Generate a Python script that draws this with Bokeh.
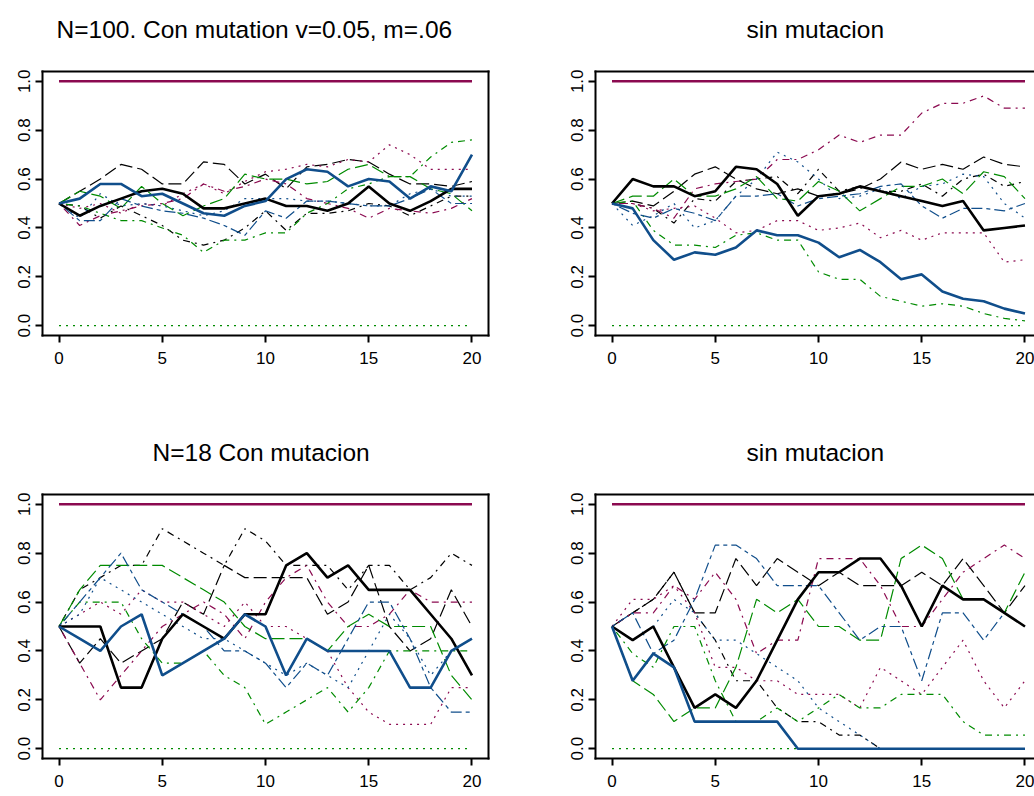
from bokeh.plotting import figure
from bokeh.models import Range1d, FixedTicker, NumeralTickFormatter, LinearAxis, Title
from bokeh.layouts import column, row
from bokeh.embed import file_html
from bokeh.resources import INLINE

# ---------------------------------------------------------------------------
# Data: allele frequency per generation, ten replicate populations per panel
# plus the two absorbing boundaries (fixation at 1, loss at 0).
# ---------------------------------------------------------------------------
GEN = [0, 1, 2, 3, 4, 5, 6, 7, 8, 9, 10, 11, 12, 13, 14, 15, 16, 17, 18, 19, 20]
X_TICKS = [0, 5, 10, 15, 20]
Y_TICKS = [0.0, 0.2, 0.4, 0.6, 0.8, 1.0]

FIXED_ONE = [1.0, 1.0, 1.0, 1.0, 1.0, 1.0, 1.0, 1.0, 1.0, 1.0, 1.0,
             1.0, 1.0, 1.0, 1.0, 1.0, 1.0, 1.0, 1.0, 1.0, 1.0]
FIXED_ZERO = [0.0, 0.0, 0.0, 0.0, 0.0, 0.0, 0.0, 0.0, 0.0, 0.0, 0.0,
              0.0, 0.0, 0.0, 0.0, 0.0, 0.0, 0.0, 0.0, 0.0, 0.0]

TITLES = ["N=100. Con mutation v=0.05, m=.06", "sin mutacion",
          "N=18 Con mutacion", "sin mutacion"]

# N=100, with mutation
A_BLACK_SOLID = [0.50, 0.45, 0.49, 0.52, 0.55, 0.56, 0.54, 0.48, 0.48, 0.50, 0.52,
                 0.49, 0.49, 0.47, 0.50, 0.57, 0.50, 0.47, 0.51, 0.56, 0.56]
A_BLUE_SOLID = [0.50, 0.52, 0.58, 0.58, 0.53, 0.54, 0.50, 0.46, 0.45, 0.49, 0.51,
                0.60, 0.64, 0.63, 0.57, 0.60, 0.59, 0.52, 0.57, 0.55, 0.70]
A_BLACK_LONG = [0.50, 0.55, 0.60, 0.66, 0.64, 0.58, 0.58, 0.67, 0.66, 0.58, 0.62,
                0.56, 0.65, 0.66, 0.68, 0.67, 0.62, 0.58, 0.58, 0.57, 0.59]
A_BLACK_DOTDASH = [0.50, 0.49, 0.44, 0.49, 0.45, 0.41, 0.35, 0.33, 0.35, 0.40, 0.47,
                   0.39, 0.46, 0.46, 0.47, 0.50, 0.49, 0.45, 0.49, 0.53, 0.53]
A_MAROON_DOTDASH = [0.50, 0.41, 0.45, 0.47, 0.49, 0.50, 0.52, 0.58, 0.55, 0.57, 0.60,
                    0.58, 0.52, 0.50, 0.48, 0.44, 0.48, 0.47, 0.46, 0.48, 0.52]
A_MAROON_DOTTED = [0.50, 0.48, 0.50, 0.46, 0.50, 0.49, 0.54, 0.58, 0.54, 0.59, 0.63,
                   0.64, 0.66, 0.65, 0.68, 0.67, 0.74, 0.70, 0.64, 0.64, 0.64]
A_GREEN_LONG = [0.50, 0.55, 0.53, 0.48, 0.57, 0.50, 0.45, 0.49, 0.52, 0.62, 0.60,
                0.60, 0.58, 0.59, 0.64, 0.66, 0.61, 0.61, 0.56, 0.54, 0.47]
A_GREEN_DOTDASH = [0.50, 0.49, 0.46, 0.43, 0.43, 0.40, 0.37, 0.30, 0.35, 0.35, 0.38,
                   0.38, 0.46, 0.50, 0.56, 0.58, 0.61, 0.61, 0.69, 0.75, 0.76]
A_BLUE_TWODASH = [0.50, 0.43, 0.43, 0.52, 0.49, 0.47, 0.46, 0.44, 0.41, 0.37, 0.47,
                  0.44, 0.51, 0.51, 0.50, 0.49, 0.49, 0.52, 0.56, 0.50, 0.50]
A_BLUE_DOTTED = [0.50, 0.44, 0.54, 0.49, 0.50, 0.49, 0.47, 0.45, 0.47, 0.52, 0.52,
                 0.52, 0.51, 0.51, 0.50, 0.49, 0.49, 0.54, 0.56, 0.53, 0.53]

# N=100, without mutation
B_BLACK_SOLID = [0.50, 0.60, 0.57, 0.57, 0.53, 0.55, 0.65, 0.64, 0.58, 0.45, 0.53,
                 0.54, 0.57, 0.55, 0.53, 0.51, 0.49, 0.51, 0.39, 0.40, 0.41]
B_BLUE_SOLID = [0.50, 0.48, 0.35, 0.27, 0.30, 0.29, 0.32, 0.39, 0.37, 0.37, 0.34,
                0.28, 0.31, 0.26, 0.19, 0.21, 0.14, 0.11, 0.10, 0.07, 0.05]
B_BLACK_LONG = [0.50, 0.51, 0.49, 0.55, 0.62, 0.65, 0.60, 0.56, 0.54, 0.56, 0.53,
                0.54, 0.56, 0.60, 0.67, 0.64, 0.66, 0.64, 0.69, 0.66, 0.65]
B_BLACK_DOTDASH = [0.50, 0.50, 0.48, 0.42, 0.52, 0.51, 0.59, 0.60, 0.61, 0.54, 0.64,
                   0.55, 0.57, 0.55, 0.55, 0.58, 0.53, 0.60, 0.62, 0.57, 0.59]
B_MAROON_DOTDASH = [0.50, 0.50, 0.48, 0.44, 0.56, 0.58, 0.59, 0.60, 0.68, 0.68, 0.72,
                    0.78, 0.75, 0.78, 0.78, 0.87, 0.91, 0.91, 0.94, 0.89, 0.89]
B_MAROON_DOTTED = [0.50, 0.50, 0.47, 0.48, 0.49, 0.44, 0.38, 0.39, 0.43, 0.43, 0.39,
                   0.40, 0.42, 0.36, 0.39, 0.35, 0.38, 0.38, 0.38, 0.26, 0.27]
B_GREEN_LONG = [0.50, 0.53, 0.53, 0.60, 0.53, 0.53, 0.56, 0.61, 0.52, 0.51, 0.59,
                0.55, 0.47, 0.52, 0.57, 0.57, 0.60, 0.54, 0.63, 0.61, 0.52]
B_GREEN_DOTDASH = [0.50, 0.51, 0.39, 0.33, 0.33, 0.32, 0.37, 0.38, 0.35, 0.35, 0.22,
                   0.19, 0.19, 0.12, 0.10, 0.08, 0.09, 0.08, 0.05, 0.03, 0.02]
B_BLUE_TWODASH = [0.50, 0.46, 0.44, 0.48, 0.46, 0.43, 0.53, 0.53, 0.54, 0.49, 0.52,
                  0.53, 0.54, 0.57, 0.58, 0.49, 0.44, 0.48, 0.48, 0.47, 0.50]
B_BLUE_DOTTED = [0.50, 0.41, 0.45, 0.50, 0.40, 0.43, 0.53, 0.60, 0.71, 0.67, 0.60,
                 0.52, 0.53, 0.56, 0.52, 0.57, 0.58, 0.62, 0.61, 0.50, 0.44]

# N=18, with mutation
C_BLACK_SOLID = [0.50, 0.50, 0.50, 0.25, 0.25, 0.45, 0.55, 0.50, 0.45, 0.55, 0.55,
                 0.75, 0.80, 0.70, 0.75, 0.65, 0.65, 0.65, 0.55, 0.45, 0.30]
C_BLUE_SOLID = [0.50, 0.45, 0.40, 0.50, 0.55, 0.30, 0.35, 0.40, 0.45, 0.55, 0.50,
                0.30, 0.45, 0.40, 0.40, 0.40, 0.40, 0.25, 0.25, 0.40, 0.45]
C_BLACK_LONG = [0.50, 0.35, 0.45, 0.35, 0.40, 0.45, 0.60, 0.55, 0.75, 0.70, 0.70,
                0.70, 0.70, 0.55, 0.60, 0.75, 0.50, 0.40, 0.45, 0.65, 0.50]
C_BLACK_DOTDASH = [0.50, 0.65, 0.70, 0.75, 0.75, 0.90, 0.85, 0.80, 0.75, 0.90, 0.85,
                   0.75, 0.75, 0.75, 0.65, 0.75, 0.75, 0.65, 0.70, 0.80, 0.75]
C_MAROON_DOTDASH = [0.50, 0.35, 0.20, 0.30, 0.40, 0.50, 0.55, 0.60, 0.55, 0.45, 0.60,
                    0.70, 0.75, 0.60, 0.50, 0.50, 0.55, 0.65, 0.60, 0.60, 0.60]
C_MAROON_DOTTED = [0.50, 0.55, 0.60, 0.55, 0.65, 0.60, 0.60, 0.55, 0.50, 0.60, 0.50,
                   0.50, 0.45, 0.40, 0.25, 0.15, 0.10, 0.10, 0.10, 0.25, 0.25]
C_GREEN_LONG = [0.50, 0.65, 0.75, 0.75, 0.75, 0.75, 0.70, 0.65, 0.60, 0.50, 0.45,
                0.45, 0.45, 0.40, 0.50, 0.55, 0.50, 0.50, 0.50, 0.30, 0.20]
C_GREEN_DOTDASH = [0.50, 0.60, 0.60, 0.60, 0.45, 0.35, 0.35, 0.40, 0.30, 0.25, 0.10,
                   0.15, 0.20, 0.25, 0.15, 0.25, 0.40, 0.40, 0.40, 0.40, 0.40]
C_BLUE_TWODASH = [0.50, 0.60, 0.70, 0.80, 0.65, 0.60, 0.55, 0.50, 0.40, 0.40, 0.35,
                  0.25, 0.35, 0.30, 0.45, 0.60, 0.60, 0.45, 0.25, 0.15, 0.15]
C_BLUE_DOTTED = [0.50, 0.55, 0.70, 0.65, 0.60, 0.55, 0.50, 0.45, 0.45, 0.40, 0.35,
                 0.30, 0.35, 0.30, 0.25, 0.40, 0.55, 0.45, 0.30, 0.40, 0.45]

# N=18, without mutation
D_BLACK_SOLID = [0.500, 0.444, 0.500, 0.333, 0.167, 0.222, 0.167, 0.278, 0.444, 0.611, 0.722,
                 0.722, 0.778, 0.778, 0.667, 0.500, 0.667, 0.611, 0.611, 0.556, 0.500]
D_BLUE_SOLID = [0.500, 0.278, 0.389, 0.333, 0.111, 0.111, 0.111, 0.111, 0.111, 0.000, 0.000,
                0.000, 0.000, 0.000, 0.000, 0.000, 0.000, 0.000, 0.000, 0.000, 0.000]
D_BLACK_LONG = [0.500, 0.556, 0.611, 0.722, 0.556, 0.556, 0.778, 0.667, 0.778, 0.722, 0.667,
                0.722, 0.667, 0.667, 0.667, 0.722, 0.667, 0.778, 0.667, 0.556, 0.667]
D_BLACK_DOTDASH = [0.500, 0.556, 0.611, 0.722, 0.556, 0.444, 0.278, 0.278, 0.167, 0.111, 0.111,
                   0.056, 0.056, 0.000, 0.000, 0.000, 0.000, 0.000, 0.000, 0.000, 0.000]
D_MAROON_DOTDASH = [0.500, 0.556, 0.556, 0.667, 0.611, 0.722, 0.611, 0.389, 0.444, 0.444, 0.778,
                    0.778, 0.778, 0.667, 0.500, 0.500, 0.611, 0.722, 0.778, 0.833, 0.778]
D_MAROON_DOTTED = [0.500, 0.611, 0.611, 0.667, 0.556, 0.333, 0.333, 0.278, 0.278, 0.222, 0.222,
                   0.222, 0.167, 0.333, 0.278, 0.222, 0.333, 0.444, 0.278, 0.167, 0.278]
D_GREEN_LONG = [0.500, 0.278, 0.222, 0.111, 0.167, 0.167, 0.333, 0.611, 0.556, 0.611, 0.500,
                0.500, 0.444, 0.444, 0.778, 0.833, 0.778, 0.611, 0.611, 0.556, 0.722]
D_GREEN_DOTDASH = [0.500, 0.389, 0.333, 0.500, 0.500, 0.278, 0.111, 0.111, 0.167, 0.111, 0.167,
                   0.222, 0.167, 0.167, 0.222, 0.222, 0.222, 0.111, 0.056, 0.056, 0.056]
D_BLUE_TWODASH = [0.500, 0.556, 0.389, 0.444, 0.611, 0.833, 0.833, 0.778, 0.667, 0.667, 0.667,
                  0.556, 0.444, 0.500, 0.500, 0.278, 0.556, 0.556, 0.444, 0.556, 0.500]
D_BLUE_DOTTED = [0.500, 0.444, 0.500, 0.611, 0.556, 0.444, 0.444, 0.389, 0.333, 0.278, 0.167,
                 0.111, 0.056, 0.000, 0.000, 0.000, 0.000, 0.000, 0.000, 0.000, 0.000]

# ---------------------------------------------------------------------------
# Line styles (R-like colours and dash patterns)
# ---------------------------------------------------------------------------
BLACK = "#000000"
MAROON = "#8B0A50"
GREEN = "#008B00"
BLUE = "#104E8B"

THIN = 1.2
THICK = 2.6
DOTTED = "2 5"
DOTDASH = "2 5 7 5"
LONGDASH = "13 5"
TWODASH = "4 4 11 4"

STYLES = {
    "maroon_fixed": (MAROON, "solid", THICK),
    "green_fixed": (GREEN, DOTTED, THIN),
    "black_long": (BLACK, LONGDASH, THIN),
    "black_dotdash": (BLACK, DOTDASH, THIN),
    "maroon_dotdash": (MAROON, DOTDASH, THIN),
    "maroon_dotted": (MAROON, DOTTED, THIN),
    "green_long": (GREEN, LONGDASH, THIN),
    "green_dotdash": (GREEN, DOTDASH, THIN),
    "blue_twodash": (BLUE, TWODASH, THIN),
    "blue_dotted": (BLUE, DOTTED, THIN),
    "black_solid": (BLACK, "solid", THICK),
    "blue_solid": (BLUE, "solid", THICK),
}

PANEL_A = [("maroon_fixed", FIXED_ONE), ("green_fixed", FIXED_ZERO),
           ("black_long", A_BLACK_LONG), ("black_dotdash", A_BLACK_DOTDASH),
           ("maroon_dotdash", A_MAROON_DOTDASH), ("maroon_dotted", A_MAROON_DOTTED),
           ("green_long", A_GREEN_LONG), ("green_dotdash", A_GREEN_DOTDASH),
           ("blue_twodash", A_BLUE_TWODASH), ("blue_dotted", A_BLUE_DOTTED),
           ("black_solid", A_BLACK_SOLID), ("blue_solid", A_BLUE_SOLID)]
PANEL_B = [("maroon_fixed", FIXED_ONE), ("green_fixed", FIXED_ZERO),
           ("black_long", B_BLACK_LONG), ("black_dotdash", B_BLACK_DOTDASH),
           ("maroon_dotdash", B_MAROON_DOTDASH), ("maroon_dotted", B_MAROON_DOTTED),
           ("green_long", B_GREEN_LONG), ("green_dotdash", B_GREEN_DOTDASH),
           ("blue_twodash", B_BLUE_TWODASH), ("blue_dotted", B_BLUE_DOTTED),
           ("black_solid", B_BLACK_SOLID), ("blue_solid", B_BLUE_SOLID)]
PANEL_C = [("maroon_fixed", FIXED_ONE), ("green_fixed", FIXED_ZERO),
           ("black_long", C_BLACK_LONG), ("black_dotdash", C_BLACK_DOTDASH),
           ("maroon_dotdash", C_MAROON_DOTDASH), ("maroon_dotted", C_MAROON_DOTTED),
           ("green_long", C_GREEN_LONG), ("green_dotdash", C_GREEN_DOTDASH),
           ("blue_twodash", C_BLUE_TWODASH), ("blue_dotted", C_BLUE_DOTTED),
           ("black_solid", C_BLACK_SOLID), ("blue_solid", C_BLUE_SOLID)]
PANEL_D = [("maroon_fixed", FIXED_ONE), ("green_fixed", FIXED_ZERO),
           ("black_long", D_BLACK_LONG), ("black_dotdash", D_BLACK_DOTDASH),
           ("maroon_dotdash", D_MAROON_DOTDASH), ("maroon_dotted", D_MAROON_DOTTED),
           ("green_long", D_GREEN_LONG), ("green_dotdash", D_GREEN_DOTDASH),
           ("blue_twodash", D_BLUE_TWODASH), ("blue_dotted", D_BLUE_DOTTED),
           ("black_solid", D_BLACK_SOLID), ("blue_solid", D_BLUE_SOLID)]

FONT = "Liberation Sans"
PX_PER_GEN = 446 / 21.6  # same horizontal scale in every panel


def style_axis(ax):
    ax.axis_line_width = 2
    ax.axis_line_color = "black"
    ax.axis_line_cap = "square"
    ax.major_tick_line_width = 2
    ax.major_tick_out = 7
    ax.major_tick_in = 0
    ax.minor_tick_line_color = None
    ax.major_label_text_font = FONT
    ax.major_label_text_color = "black"


def make_panel(title, title_offset, series, width, height,
               left, right, top, bottom, frame_w, closed_right):
    x_end = -0.8 + frame_w / PX_PER_GEN
    p = figure(width=width, height=height,
               x_range=Range1d(-0.8, x_end), y_range=Range1d(-0.04, 1.04),
               output_backend="svg", toolbar_location=None,
               min_border_left=left, min_border_right=right,
               min_border_top=top, min_border_bottom=bottom)
    p.outline_line_color = None
    p.background_fill_color = "white"
    p.border_fill_color = "white"
    p.grid.visible = False

    p.title.text = title
    p.title.align = "left"
    p.title.offset = title_offset
    p.title.text_font = FONT
    p.title.text_font_size = "24.5px"
    p.title.text_font_style = "normal"
    p.title.text_color = "#000000"
    p.title.standoff = 4

    # the two labelled axes
    x_axis = p.xaxis[0]
    y_axis = p.yaxis[0]
    for ax in (x_axis, y_axis):
        style_axis(ax)
    x_axis.ticker = FixedTicker(ticks=X_TICKS)
    x_axis.major_label_text_font_size = "17px"
    x_axis.major_label_standoff = 9
    y_axis.ticker = FixedTicker(ticks=Y_TICKS)
    y_axis.formatter = NumeralTickFormatter(format="0.0")
    y_axis.major_label_orientation = "vertical"
    y_axis.major_label_text_font_size = "17px"
    y_axis.major_label_standoff = 5

    # unlabelled axes closing the box, and empty room between box and title
    top_axis = LinearAxis(ticker=FixedTicker(ticks=[]))
    style_axis(top_axis)
    top_axis.major_tick_line_color = None
    top_axis.major_label_text_font_size = "0px"
    p.add_layout(top_axis, "above")
    p.add_layout(Title(text=" ", text_font_size="1px", standoff=24), "above")
    if closed_right:
        right_axis = LinearAxis(ticker=FixedTicker(ticks=[]))
        style_axis(right_axis)
        right_axis.major_tick_line_color = None
        right_axis.major_label_text_font_size = "0px"
        p.add_layout(right_axis, "right")

    for key, values in series:
        color, dash, lw = STYLES[key]
        p.line(GEN, values, line_color=color, line_dash=dash, line_width=lw)
    return p


p1 = make_panel(TITLES[0], 14, PANEL_A, 540, 420, 42, 52, 71, 85, 446, True)
p2 = make_panel(TITLES[1], 151, PANEL_B, 494, 420, 55, 0, 71, 85, 439, False)
p3 = make_panel(TITLES[2], 110, PANEL_C, 540, 376, 42, 52, 74, 38, 446, True)
p4 = make_panel(TITLES[3], 151, PANEL_D, 494, 376, 55, 0, 74, 38, 439, False)

page = column(row(p1, p2), row(p3, p4))
open("out.html", "w").write(file_html(page, INLINE))
